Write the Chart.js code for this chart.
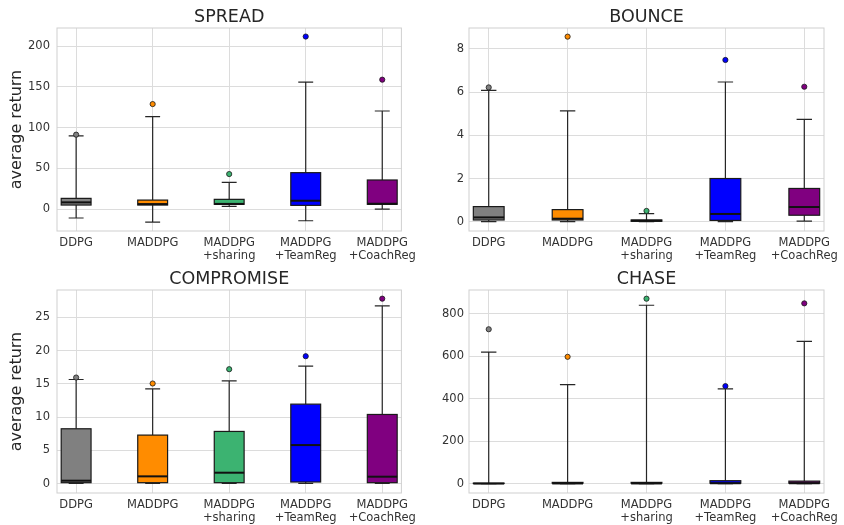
<!DOCTYPE html>
<html>
<head>
<meta charset="utf-8">
<script src="https://cdn.jsdelivr.net/npm/chart.js@4.4.0/dist/chart.umd.min.js"></script>
<style>
  html, body { margin: 0; padding: 0; background: #fff; }
  #wrap { position: relative; width: 844px; height: 525px; }
  #wrap canvas { position: absolute; }
</style>
</head>
<body>
<div id="wrap">
  <canvas id="spread" width="422" height="262" style="left:0;top:0"></canvas>
  <canvas id="bounce" width="422" height="262" style="left:422px;top:0"></canvas>
  <canvas id="compromise" width="422" height="263" style="left:0;top:262px"></canvas>
  <canvas id="chase" width="422" height="263" style="left:422px;top:262px"></canvas>
</div>
<script>
// categorias e cores
const categories = [['DDPG'], ['MADDPG'], ['MADDPG', '+sharing'], ['MADDPG', '+TeamReg'], ['MADDPG', '+CoachReg']];
const positions = [1, 2, 3, 4, 5];
const boxColors = ['#808080', '#ff8c00', '#3cb371', '#0000ff', '#800080'];

// SPREAD
const spreadLow = [-11, -16, 3.3, -14.4, 0];
const spreadQ1 = [4.9, 4.9, 5.8, 4.5, 5.8];
const spreadMed = [8.2, 6.1, 6.3, 10.2, 6.5];
const spreadQ3 = [13.1, 11, 11.9, 44.7, 35.7];
const spreadHigh = [90, 113.5, 32.8, 156, 120.5];
const spreadOut = [91.4, 129, 43, 212, 159];
const spreadTicks = [0, 50, 100, 150, 200];

// BOUNCE
const bounceLow = [0, 0, 0, 0, 0.03];
const bounceQ1 = [0.08, 0.08, 0.02, 0.06, 0.3];
const bounceMed = [0.2, 0.14, 0.05, 0.36, 0.68];
const bounceQ3 = [0.7, 0.56, 0.08, 2.0, 1.54];
const bounceHigh = [6.08, 5.13, 0.37, 6.47, 4.74];
const bounceOut = [6.22, 8.57, 0.5, 7.49, 6.25];
const bounceTicks = [0, 2, 4, 6, 8];

// COMPROMISE
const compLow = [0.05, 0.05, 0.05, 0.05, 0.05];
const compQ1 = [0.15, 0.15, 0.15, 0.25, 0.15];
const compMed = [0.45, 1.1, 1.65, 5.8, 1.05];
const compQ3 = [8.25, 7.3, 7.85, 11.95, 10.4];
const compHigh = [15.65, 14.25, 15.45, 17.65, 26.7];
const compOut = [15.95, 15.05, 17.2, 19.15, 27.8];
const compTicks = [0, 5, 10, 15, 20, 25];

// CHASE
const chaseLow = [0, 0, 0, 0, 0];
const chaseQ1 = [0, 0, 0, 0, 0];
const chaseMed = [0.5, 1, 1, 2, 2];
const chaseQ3 = [1, 6, 6, 14, 12];
const chaseHigh = [620, 467, 841, 447, 671];
const chaseOut = [728, 598, 872, 460, 850];
const chaseTicks = [0, 200, 400, 600, 800];

const FONT = 'DejaVu Sans';
const TEXT = '#333333';
const GRID = '#dcdcdc';

function drawPanel(id, p) {
    // whiskers, caps, contorno das caixas, medianas e moldura
    const boxPlugin = {
        id: 'boxWhiskers',
        beforeDatasetsDraw(chart) {
            const ctx = chart.ctx, xs = chart.scales.x, ys = chart.scales.y;
            const bars = chart.getDatasetMeta(0).data;
            ctx.save();
            ctx.strokeStyle = '#262626';
            ctx.lineWidth = 1.2;
            positions.forEach((pos, i) => {
                const x = xs.getPixelForValue(pos);
                const half = bars[i].width / 4;
                const yl = ys.getPixelForValue(p.low[i]);
                const yq1 = ys.getPixelForValue(p.q1[i]);
                const yq3 = ys.getPixelForValue(p.q3[i]);
                const yh = ys.getPixelForValue(p.high[i]);
                ctx.beginPath();
                ctx.moveTo(x, yl); ctx.lineTo(x, yq1);
                ctx.moveTo(x, yq3); ctx.lineTo(x, yh);
                ctx.moveTo(x - half, yl); ctx.lineTo(x + half, yl);
                ctx.moveTo(x - half, yh); ctx.lineTo(x + half, yh);
                ctx.stroke();
            });
            ctx.restore();
        },
        afterDatasetDraw(chart, args) {
            if (args.index !== 0) return;
            const ctx = chart.ctx, ys = chart.scales.y;
            const bars = chart.getDatasetMeta(0).data;
            ctx.save();
            bars.forEach((b, i) => {
                const top = Math.min(b.y, b.base), h = Math.abs(b.base - b.y);
                ctx.strokeStyle = '#1a1a1a';
                ctx.lineWidth = 1.2;
                ctx.strokeRect(b.x - b.width / 2, top, b.width, h);
                const y = ys.getPixelForValue(p.med[i]);
                ctx.strokeStyle = '#111';
                ctx.lineWidth = 2;
                ctx.beginPath();
                ctx.moveTo(b.x - b.width / 2, y);
                ctx.lineTo(b.x + b.width / 2, y);
                ctx.stroke();
            });
            ctx.restore();
        },
        afterDraw(chart) {
            const {ctx, chartArea: a} = chart;
            ctx.save();
            ctx.strokeStyle = '#cfcfcf';
            ctx.lineWidth = 1;
            ctx.strokeRect(a.left, a.top, a.right - a.left, a.bottom - a.top);
            ctx.restore();
        }
    };

    new Chart(document.getElementById(id), {
        type: 'bar',
        data: {
            datasets: [
                {
                    type: 'bar',
                    data: positions.map((x, i) => ({x: x, y: [p.q1[i], p.q3[i]]})),
                    backgroundColor: boxColors,
                    borderWidth: 0,
                    barPercentage: 0.39,
                    categoryPercentage: 1,
                    order: 2
                },
                {
                    type: 'scatter',
                    data: positions.map((x, i) => ({x: x, y: p.out[i]})),
                    pointBackgroundColor: boxColors,
                    pointBorderColor: '#1a1a1a',
                    pointBorderWidth: 0.8,
                    pointRadius: 2.6,
                    order: 1
                }
            ]
        },
        options: {
            responsive: false,
            animation: false,
            devicePixelRatio: 1,
            events: [],
            layout: { padding: { left: 0, right: p.padRight, top: 0, bottom: 0 } },
            plugins: {
                legend: { display: false },
                tooltip: { enabled: false },
                title: {
                    display: true,
                    text: p.title,
                    fullSize: false,
                    color: '#262626',
                    font: { family: FONT, size: 17.5, weight: 'normal' },
                    padding: { top: 6.5, bottom: 0.5 }
                }
            },
            scales: {
                x: {
                    type: 'linear',
                    min: 0.75,
                    max: 5.25,
                    offset: false,
                    afterBuildTicks: s => { s.ticks = positions.map(v => ({value: v})); },
                    afterFit: s => { s.height = p.xHeight; },
                    grid: { color: GRID, lineWidth: 1, drawTicks: false, offset: false },
                    border: { display: false },
                    ticks: {
                        autoSkip: false,
                        maxRotation: 0,
                        padding: 5,
                        color: TEXT,
                        font: { family: FONT, size: 11.5, lineHeight: 1.17 },
                        callback: v => categories[v - 1]
                    }
                },
                y: {
                    min: p.yMin,
                    max: p.yMax,
                    afterBuildTicks: s => { s.ticks = p.yTicks.map(v => ({value: v})); },
                    afterFit: s => { s.width = p.yWidth; },
                    grid: { color: GRID, lineWidth: 1, drawTicks: false },
                    border: { display: false },
                    ticks: { padding: p.tickPad, color: TEXT, font: { family: FONT, size: 11.5 } },
                    title: {
                        display: p.yLabel,
                        text: 'average return',
                        color: '#262626',
                        font: { family: FONT, size: 16 },
                        padding: { top: 7.5, bottom: 0 }
                    }
                }
            }
        },
        plugins: [boxPlugin]
    });
}

drawPanel('spread', {
    title: 'SPREAD', low: spreadLow, q1: spreadQ1, med: spreadMed, q3: spreadQ3, high: spreadHigh, out: spreadOut,
    yTicks: spreadTicks, yMin: -27, yMax: 222.5, yLabel: true, yWidth: 57, padRight: 7, tickPad: 7, xHeight: 31
});
drawPanel('bounce', {
    title: 'BOUNCE', low: bounceLow, q1: bounceQ1, med: bounceMed, q3: bounceQ3, high: bounceHigh, out: bounceOut,
    yTicks: bounceTicks, yMin: -0.43, yMax: 8.97, yLabel: false, yWidth: 47, padRight: 16, tickPad: 5, xHeight: 31
});
drawPanel('compromise', {
    title: 'COMPROMISE', low: compLow, q1: compQ1, med: compMed, q3: compQ3, high: compHigh, out: compOut,
    yTicks: compTicks, yMin: -1.4, yMax: 29.1, yLabel: true, yWidth: 57, padRight: 7, tickPad: 7, xHeight: 32
});
drawPanel('chase', {
    title: 'CHASE', low: chaseLow, q1: chaseQ1, med: chaseMed, q3: chaseQ3, high: chaseHigh, out: chaseOut,
    yTicks: chaseTicks, yMin: -44, yMax: 913, yLabel: false, yWidth: 47, padRight: 16, tickPad: 5, xHeight: 32
});
</script>
</body>
</html>
